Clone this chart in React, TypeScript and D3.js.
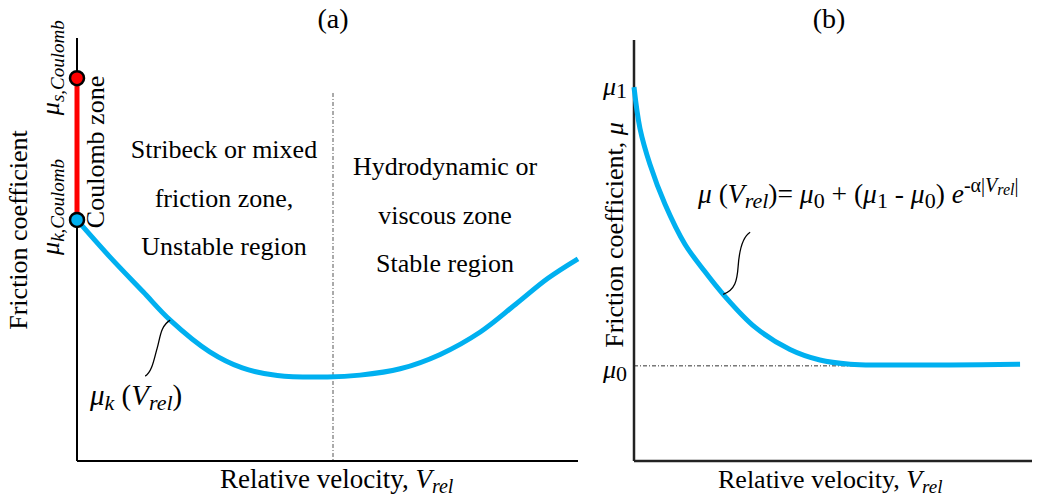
import React from 'react';
import * as d3 from 'd3';

// Panel (a): Stribeck curve (relative velocity vs kinetic friction)
const velA = [0, 0.66, 1.32, 1.86, 2.65, 3.3, 4, 5, 5.65, 6.45, 7.25, 8.05, 8.75, 9.4, 10];
const muA = [0.57, 0.482, 0.4, 0.333, 0.258, 0.22, 0.202, 0.1986, 0.203, 0.218, 0.252, 0.305, 0.37, 0.432, 0.478];
const muSCoulomb = 0.905;
const muKCoulomb = 0.57;
const stribeckLimit = 5.11;
const leaderIndexA = 3;

// Panel (b): exponential decay model
const velB = [0, 0.15, 0.4, 0.78, 1.28, 1.78, 2.24, 3.04, 3.92, 4.67, 5.43, 6.18, 9.7];
const muB = [0.888, 0.79, 0.705, 0.61, 0.515, 0.45, 0.396, 0.318, 0.265, 0.24, 0.23, 0.228, 0.23];
const mu0 = 0.226;
const mu1 = 0.888;
const mu0LineEnd = 5.8;
const leaderIndexB = 6;

const panelTitles = ['(a)', '(b)'];
const zoneStribeck = ['Stribeck or mixed', 'friction zone,', 'Unstable region'];
const zoneHydro = ['Hydrodynamic or', 'viscous zone', 'Stable region'];

const W = 1040;
const H = 502;
const BLUE = '#00B0F0';
const TS = { fontFamily: 'Liberation Serif' };

const ax = d3.scaleLinear().domain([0, 10]).range([77, 578]);
const ay = d3.scaleLinear().domain([0, 1]).range([461, 38]);
const bx = d3.scaleLinear().domain([0, 10]).range([634, 1032]);
const by = d3.scaleLinear().domain([0, 1]).range([461, 40]);

export default function App() {
  const lineA = d3.line<number>().x((d, i) => ax(velA[i])).y((d) => ay(d)).curve(d3.curveCatmullRom.alpha(0.5));
  const lineB = d3.line<number>().x((d, i) => bx(velB[i])).y((d) => by(d)).curve(d3.curveCatmullRom.alpha(0.5));

  const la = [ax(velA[leaderIndexA]), ay(muA[leaderIndexA])];
  const lb = [bx(velB[leaderIndexB]), by(muB[leaderIndexB])];

  const fs = 26;
  return (
    <svg width={W} height={H} style={{ position: 'absolute', left: 0, top: 0, background: '#fff' }}>
      <rect width={W} height={H} fill="#fff" />
      {/* ---------- Panel (a) ---------- */}
      <text style={TS} x={333} y={28} fontSize={28} textAnchor="middle">{panelTitles[0]}</text>
      <line x1={ax(stribeckLimit)} x2={ax(stribeckLimit)} y1={ay(0.87)} y2={ay(0)} stroke="#555" strokeWidth={1} strokeDasharray="4,2,1,2" />
      <line x1={ax(0)} x2={ax(0)} y1={ay(1)} y2={ay(0)} stroke="#000" strokeWidth={2} />
      <line x1={ax(0)} x2={ax(10)} y1={ay(0)} y2={ay(0)} stroke="#000" strokeWidth={2} />
      <line x1={ax(0)} x2={ax(0)} y1={ay(muSCoulomb)} y2={ay(muKCoulomb)} stroke="#FF0000" strokeWidth={5} />
      <path d={lineA(muA) || ''} fill="none" stroke={BLUE} strokeWidth={5} />
      <circle cx={ax(0)} cy={ay(muSCoulomb)} r={7} fill="#FF0000" stroke="#000" strokeWidth={2.5} />
      <circle cx={ax(0)} cy={ay(muKCoulomb)} r={7} fill={BLUE} stroke="#000" strokeWidth={2.5} />
      <text style={TS} transform="translate(27,230) rotate(-90)" fontSize={fs} textAnchor="middle">Friction coefficient</text>
      <text style={TS} transform={`translate(59,${ay(muSCoulomb) + 37}) rotate(-90)`} fontSize={fs} fontStyle="italic">
        μ<tspan fontSize={19} dy={5}>s,Coulomb</tspan>
      </text>
      <text style={TS} transform={`translate(59,${ay(muKCoulomb) + 35}) rotate(-90)`} fontSize={fs} fontStyle="italic">
        μ<tspan fontSize={19} dy={5}>k,Coulomb</tspan>
      </text>
      <text style={TS} transform="translate(104,152) rotate(-90)" fontSize={fs} textAnchor="middle">Coulomb zone</text>
      {zoneStribeck.map((t, i) => (
        <text style={TS} key={t} x={224} y={158 + i * 48.5} fontSize={fs} textAnchor="middle">{t}</text>
      ))}
      {zoneHydro.map((t, i) => (
        <text style={TS} key={t} x={445} y={175 + i * 48.5} fontSize={fs} textAnchor="middle">{t}</text>
      ))}
      <path d={`M${la[0]},${la[1]} c-10,6 -10,18 -13,28 s-5,24 -12,28`} fill="none" stroke="#000" strokeWidth={1.3} />
      <text style={TS} x={90} y={405} fontSize={29}>
        <tspan fontStyle="italic">μ</tspan>
        <tspan fontStyle="italic" fontSize={22} dy={5}>k</tspan>
        <tspan dy={-5}> (</tspan>
        <tspan fontStyle="italic">V</tspan>
        <tspan fontStyle="italic" fontSize={22} dy={5}>rel</tspan>
        <tspan dy={-5}>)</tspan>
      </text>
      <text style={TS} x={220} y={488} fontSize={fs + 1}>
        Relative velocity, <tspan fontStyle="italic">V</tspan>
        <tspan fontStyle="italic" fontSize={20} dy={5}>rel</tspan>
      </text>

      {/* ---------- Panel (b) ---------- */}
      <text style={TS} x={829} y={28} fontSize={28} textAnchor="middle">{panelTitles[1]}</text>
      <line x1={bx(0)} x2={bx(mu0LineEnd)} y1={by(mu0)} y2={by(mu0)} stroke="#333" strokeWidth={1} strokeDasharray="4,2,1,2" />
      <line x1={bx(0)} x2={bx(0)} y1={by(1)} y2={by(0)} stroke="#222" strokeWidth={2.5} />
      <line x1={bx(0)} x2={bx(10)} y1={by(0)} y2={by(0)} stroke="#222" strokeWidth={2.5} />
      <path d={lineB(muB) || ''} fill="none" stroke={BLUE} strokeWidth={5} />
      <text style={TS} x={603} y={by(mu1) + 8} fontSize={fs}>
        <tspan fontStyle="italic">μ</tspan>
        <tspan fontSize={22} dy={3}>1</tspan>
      </text>
      <text style={TS} x={603} y={by(mu0) + 12} fontSize={fs}>
        <tspan fontStyle="italic">μ</tspan>
        <tspan fontSize={22} dy={3}>0</tspan>
      </text>
      <text style={TS} transform="translate(623,235) rotate(-90)" fontSize={fs} textAnchor="middle">
        Friction coefficient, <tspan fontStyle="italic">μ</tspan>
      </text>
      <path d={`M${lb[0]},${lb[1]} c12,-4 14,-14 15,-28 s4,-29 12,-34`} fill="none" stroke="#000" strokeWidth={1.3} />
      <text style={TS} x={698} y={203} fontSize={27.5}>
        <tspan fontStyle="italic">μ</tspan>
        <tspan> (</tspan>
        <tspan fontStyle="italic">V</tspan>
        <tspan fontStyle="italic" fontSize={22} dy={5}>rel</tspan>
        <tspan dy={-5}>)= </tspan>
        <tspan fontStyle="italic">μ</tspan>
        <tspan fontSize={22} dy={5}>0</tspan>
        <tspan dy={-5}> + (</tspan>
        <tspan fontStyle="italic">μ</tspan>
        <tspan fontSize={22} dy={5}>1</tspan>
        <tspan dy={-5}> - </tspan>
        <tspan fontStyle="italic">μ</tspan>
        <tspan fontSize={22} dy={5}>0</tspan>
        <tspan dy={-5}>) </tspan>
        <tspan fontStyle="italic">e</tspan>
        <tspan fontSize={20} dy={-11}>-α|</tspan>
        <tspan fontSize={20} fontStyle="italic">V</tspan>
        <tspan fontSize={16} fontStyle="italic" dy={3}>rel</tspan>
        <tspan fontSize={20} dy={-3}>|</tspan>
      </text>
      <text style={TS} x={718} y={488} fontSize={fs}>
        Relative velocity, <tspan fontStyle="italic">V</tspan>
        <tspan fontStyle="italic" fontSize={19} dy={5}>rel</tspan>
      </text>
    </svg>
  );
}
